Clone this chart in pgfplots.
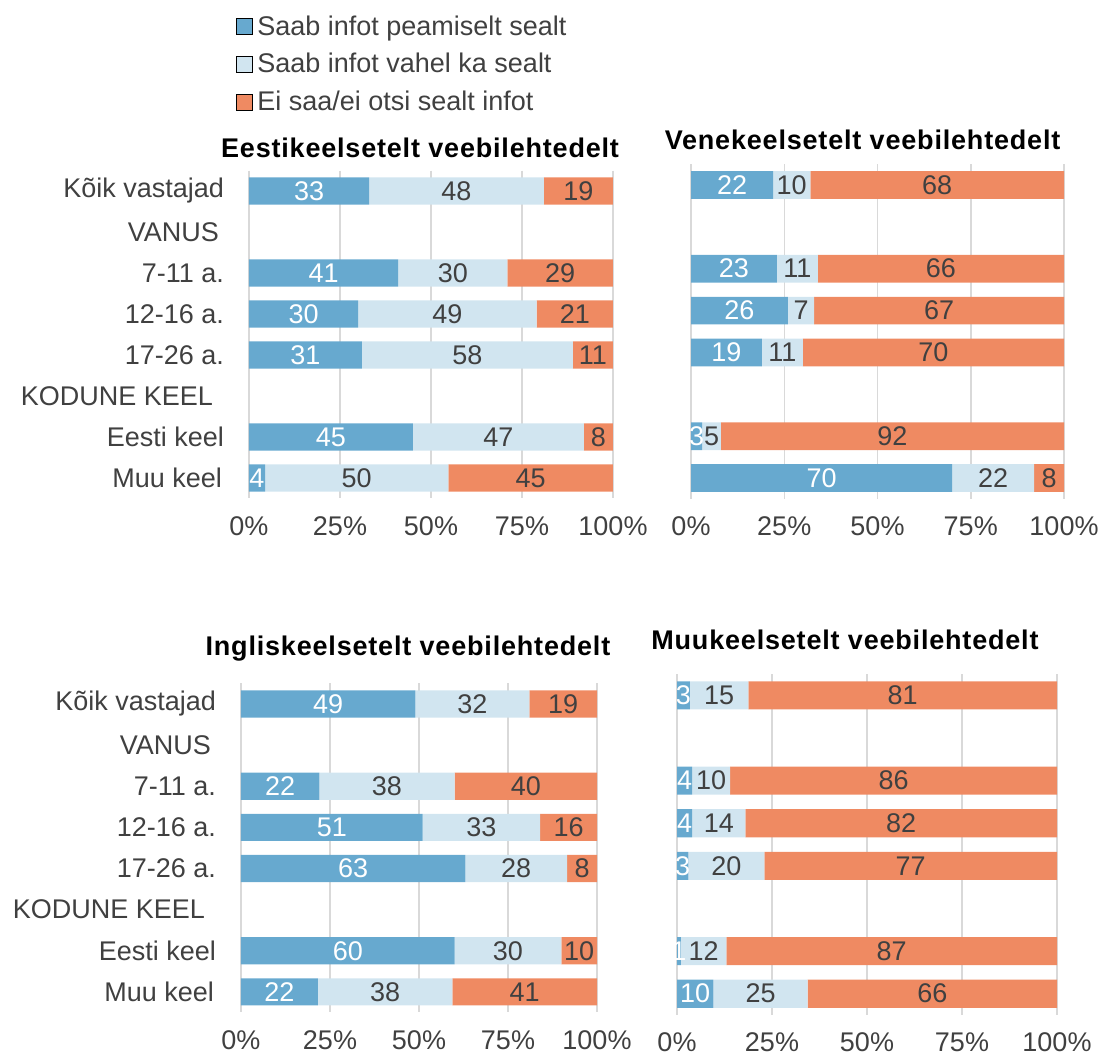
\documentclass[border=0pt]{standalone}
\usepackage{pgfplots}
\pgfplotsset{compat=1.18}
\usepackage{pgfplotstable}
\usepackage{fontspec}
\setmainfont{Liberation Sans}
\definecolor{cdark}{HTML}{67A9CF}
\definecolor{clight}{HTML}{D1E5F0}
\definecolor{corange}{HTML}{EF8A62}
\definecolor{ctext}{HTML}{404040}
\definecolor{cgrid}{HTML}{D9D9D9}
\newcommand\f{\fontsize{13.5}{16}\selectfont}

% y = row, a b c = drawn widths, la lb lc = printed labels
\pgfplotstableread{
y a b c la lb lc
0 33 48 19 33 48 19
2 41 30 29 41 30 29
3 30 49 21 30 49 21
4 31 58 11 31 58 11
6 45 47 8 45 47 8
7 4.4 50.4 45.2 4 50 45
}\tEst
\pgfplotstableread{
y a b c la lb lc
0 22 10 68 22 10 68
2 23 11 66 23 11 66
3 26 7 67 26 7 67
4 19 11 70 19 11 70
6 3 5 92 3 5 92
7 70 22 8 70 22 8
}\tVen
\pgfplotstableread{
y a b c la lb lc
0 49 32 19 49 32 19
2 22 38 40 22 38 40
3 51 33 16 51 33 16
4 63 28.6 8.4 63 28 8
6 60 30 10 60 30 10
7 21.6 37.8 40.6 22 38 41
}\tIng
\pgfplotstableread{
y a b c la lb lc
0 3.4 15.4 81.2 3 15 81
2 4 10 86 4 10 86
3 4 14 82 4 14 82
4 3 20 77 3 20 77
6 1 12 87 1 12 87
7 9.6 24.8 65.6 10 25 66
}\tMuu

\pgfplotsset{
  panel/.style={
    scale only axis, xbar stacked, bar width=0.66,
    xmin=0, xmax=100, ymin=-0.5, ymax=7.5, y dir=reverse,
    axis line style={draw=none}, major tick length=0pt,
    xmajorgrids, grid style={cgrid, line width=0.75pt},
    xtick={0,25,50,75,100},
    xticklabels={0\%,25\%,50\%,75\%,100\%},
    ytick={0,1,2,3,4,5,6,7},
    tick label style={font=\f, text=ctext},
    xticklabel style={yshift=-5.5pt},
    yticklabel style={xshift=-9pt},
    point meta=explicit symbolic,
    nodes near coords,
    every node near coord/.style={anchor=center, font=\f, text=ctext, inner sep=0pt},
    title style={font=\f\bfseries\addfontfeature{LetterSpace=3}, text=black, anchor=center},
    legend image code/.code={\fill[##1] (0pt,-4pt) rectangle (8pt,4pt);},
  },
  sA/.style={fill=cdark, draw=none, every node near coord/.append style={text=white}},
  sB/.style={fill=clight, draw=none},
  sC/.style={fill=corange, draw=none},
}

\begin{document}
\begin{tikzpicture}
\useasboundingbox (0pt,0pt) rectangle (552.5pt,-528.5pt);

% top-left
\begin{axis}[panel, at={(124.5pt,-85.25pt)}, anchor=north west,
  width=182pt, height=164pt,
  yticklabels={Kõik vastajad,VANUS\kern2.5pt,7-11 a.,12-16 a.,17-26 a.,KODUNE KEEL\kern5.5pt,Eesti keel,Muu keel\kern1pt},
  title={Eestikeelsetelt veebilehtedelt}, title style={at={(0.47,1)}, yshift=5.5pt},
  legend style={at={(-0.038,1.483)}, anchor=north west, draw=none, fill=none, font=\f, text=ctext,
    inner sep=0pt, row sep=4.5pt, nodes={inner sep=1.5pt},
    /tikz/every odd column/.append style={column sep=1pt}},
  legend cell align=left]
\addlegendimage{fill=cdark}
\addlegendimage{fill=clight}
\addlegendimage{fill=corange}
\addplot[sA] table[x=a, y=y, meta=la] {\tEst};
\addplot[sB] table[x=b, y=y, meta=lb] {\tEst};
\addplot[sC] table[x=c, y=y, meta=lc] {\tEst};
\legend{Saab infot peamiselt sealt, Saab infot vahel ka sealt, Ei saa/ei otsi sealt infot}
\end{axis}

% top-right
\begin{axis}[panel, at={(345.5pt,-82pt)}, anchor=north west,
  width=186.5pt, height=167.5pt, yticklabels={},
  title={Venekeelsetelt veebilehtedelt}, title style={at={(0.46,1)}, yshift=6pt}]
\addplot[sA] table[x=a, y=y, meta=la] {\tVen};
\addplot[sB] table[x=b, y=y, meta=lb] {\tVen};
\addplot[sC] table[x=c, y=y, meta=lc] {\tVen};
\end{axis}

% bottom-left
\begin{axis}[panel, at={(120.5pt,-341.7pt)}, anchor=north west,
  width=178pt, height=164.5pt,
  yticklabels={Kõik vastajad,VANUS\kern2.5pt,7-11 a.,12-16 a.,17-26 a.,KODUNE KEEL\kern5.5pt,Eesti keel,Muu keel\kern1pt},
  title={Ingliskeelsetelt veebilehtedelt}, title style={at={(0.469,1)}, yshift=11.5pt}]
\addplot[sA] table[x=a, y=y, meta=la] {\tIng};
\addplot[sB] table[x=b, y=y, meta=lb] {\tIng};
\addplot[sC] table[x=c, y=y, meta=lc] {\tIng};
\end{axis}

% bottom-right
\begin{axis}[panel, at={(338.5pt,-337pt)}, anchor=north west,
  width=190pt, height=170.5pt, yticklabels={},
  title={Muukeelsetelt veebilehtedelt}, title style={at={(0.442,1)}, yshift=11pt}]
\addplot[sA] table[x=a, y=y, meta=la] {\tMuu};
\addplot[sB] table[x=b, y=y, meta=lb] {\tMuu};
\addplot[sC] table[x=c, y=y, meta=lc] {\tMuu};
\end{axis}
\end{tikzpicture}
\end{document}
